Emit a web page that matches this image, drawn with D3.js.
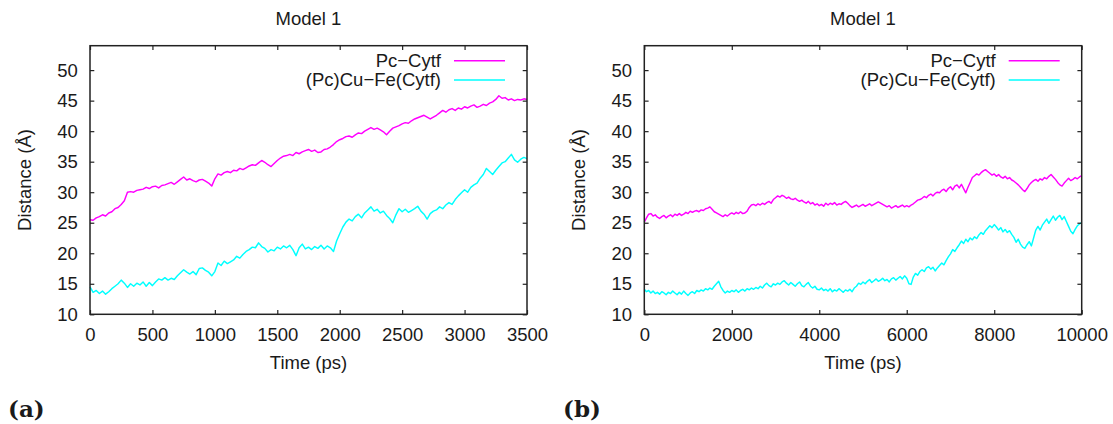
<!DOCTYPE html>
<html>
<head>
<meta charset="utf-8">
<script src="https://cdn.jsdelivr.net/npm/d3@7"></script>
<style>
  body { margin: 0; background: #fff; }
  svg { display: block; }
  text { font-family: "Liberation Sans", Arial, Helvetica, sans-serif; fill: #1a1a1a; }
</style>
</head>
<body>
<svg id="chart" width="1113" height="424"></svg>
<script>
// Distance traces from the two Model 1 MD runs.
const panelTitle = "Model 1";
const xLabel = "Time (ps)";
const yLabel = "Distance (Å)";
const seriesNames = ["Pc\u2212Cytf", "(Pc)Cu\u2212Fe(Cytf)"];
const seriesColors = ["#ff00ff", "#00ffff"];
const panelTags = ["(a)", "(b)"];

const yTicks = [10, 15, 20, 25, 30, 35, 40, 45, 50];
const yDomain = [10, 54];
const xTicksA = [0, 500, 1000, 1500, 2000, 2500, 3000, 3500];
const xTicksB = [0, 2000, 4000, 6000, 8000, 10000];

// Sampling interval (ps) of each run
const stepA = 25;
const stepB = 50;

// Run (a): 0–3500 ps
const pcCytfA = [
  25.5,25.4,25.8,26.0,26.3,26.1,26.6,26.8,27.3,27.5,28.0,28.6,30.0,30.1,30.0,30.3,30.4,30.5,30.8,30.6,
  30.9,31.0,30.7,31.1,31.2,31.4,31.6,31.3,31.7,32.1,32.5,32.0,32.2,31.9,31.7,32.0,32.1,31.8,31.5,31.0,
  32.2,33.0,32.8,33.2,33.4,33.2,33.6,33.5,33.9,33.7,34.0,34.3,34.5,34.4,34.8,35.2,34.9,34.5,34.2,34.7,
  35.2,35.6,35.9,36.0,36.2,36.0,36.5,36.3,36.6,36.8,37.0,36.7,36.9,36.5,36.6,37.0,37.1,37.4,37.8,38.3,
  38.6,38.8,39.1,39.2,39.0,39.4,39.7,39.6,40.0,40.3,40.6,40.3,40.5,40.2,39.9,39.4,40.0,40.5,40.7,40.9,
  41.2,41.4,41.3,41.7,42.0,42.2,42.4,42.6,42.3,42.0,42.3,42.6,43.0,43.4,43.1,43.5,43.7,43.4,43.8,43.6,
  44.0,43.8,44.1,44.3,43.9,44.1,44.4,44.2,44.6,44.8,45.2,45.8,45.4,45.5,45.1,45.3,45.0,45.2,45.1,45.3,
  45.2
];
const cuFeA = [
  14.5,13.6,13.9,13.4,13.8,13.3,13.7,14.2,14.6,15.0,15.6,15.1,14.4,15.0,14.6,15.1,14.8,15.3,14.6,15.2,
  14.7,15.3,15.8,15.6,16.0,15.6,15.9,15.7,16.3,16.8,17.3,16.9,16.6,17.0,16.5,17.5,17.6,17.2,16.9,16.3,
  17.0,18.4,18.0,18.7,18.3,18.6,18.9,19.5,19.2,19.8,20.3,20.6,21.0,20.9,21.7,21.1,20.8,20.2,20.6,20.4,
  21.0,20.7,21.2,20.9,21.3,20.6,19.6,20.9,21.5,20.7,21.0,20.6,21.1,20.8,21.3,20.7,21.2,20.9,20.3,22.0,
  23.2,24.3,25.1,25.6,25.3,26.0,26.4,25.8,26.6,27.1,27.6,26.9,27.2,26.6,26.9,26.2,25.7,25.0,26.3,27.3,
  26.8,27.2,26.7,27.0,27.3,27.7,26.9,26.4,25.6,26.5,26.9,27.1,27.6,27.3,27.9,28.3,28.0,28.8,29.4,29.9,
  30.4,30.0,30.8,31.2,31.5,32.3,32.9,33.9,33.4,32.9,33.6,34.2,34.8,35.0,35.6,36.2,35.3,34.9,35.4,35.7,
  35.5
];

// Run (b): 0–10000 ps
const pcCytfB = [
  25.1,25.8,26.4,26.5,26.1,26.3,25.9,25.7,26.0,26.2,25.8,26.1,26.3,26.0,26.4,26.2,26.5,26.2,26.4,26.7,
  26.5,26.9,26.7,26.9,27.0,26.8,27.1,27.0,27.3,27.4,27.6,27.2,26.8,26.6,26.4,26.2,26.0,26.3,26.1,26.4,
  26.6,26.4,26.7,26.5,26.8,26.5,26.6,26.9,27.5,27.9,28.0,27.8,28.1,27.9,28.2,28.0,28.3,28.5,28.2,28.8,
  29.1,29.4,29.2,29.5,29.3,29.0,29.2,28.9,28.8,29.0,28.7,28.5,28.7,28.4,28.2,28.5,28.1,28.3,27.9,28.1,
  27.8,28.0,27.7,28.2,27.9,28.2,28.0,28.3,27.9,28.1,28.0,28.3,28.5,28.2,27.8,27.5,27.7,27.9,27.6,27.8,
  28.0,27.7,27.9,28.1,27.8,28.0,28.2,28.4,28.2,28.0,27.8,27.6,27.8,27.4,27.6,27.8,27.5,27.7,27.9,27.6,
  27.8,27.6,27.9,28.1,28.4,28.7,28.8,29.0,29.3,29.1,29.5,29.7,29.4,29.8,30.0,29.9,30.3,30.5,30.1,30.6,
  30.9,30.4,31.0,31.2,30.7,31.3,30.6,29.9,30.8,31.6,32.4,32.7,33.0,32.8,33.2,33.5,33.7,33.4,33.1,32.8,
  33.0,32.6,32.9,32.5,32.3,32.6,32.2,32.4,32.0,31.8,31.5,31.2,30.8,30.4,30.1,30.6,31.2,31.6,31.9,32.1,
  31.8,32.2,32.0,32.4,32.2,32.6,32.9,32.5,32.1,31.6,31.2,31.0,31.5,31.9,32.3,31.9,32.1,32.4,32.2,32.5,
  32.7
];
const cuFeB = [
  14.1,13.7,13.9,13.5,13.8,13.4,13.6,13.3,13.7,13.5,13.2,13.6,13.4,13.8,13.5,13.2,13.6,13.3,13.8,13.4,
  13.1,13.5,13.7,13.4,13.9,13.7,14.0,13.8,14.2,14.0,14.3,14.1,14.6,15.0,15.4,14.5,13.9,13.5,13.8,13.6,
  13.9,13.7,14.0,13.6,13.9,14.1,13.8,14.2,14.0,14.3,14.1,14.4,14.2,14.6,14.3,14.8,15.1,14.7,14.5,15.0,
  14.8,15.1,14.9,15.3,15.5,15.1,14.8,15.2,14.9,14.6,15.0,15.3,14.7,14.5,14.9,15.2,14.6,14.3,14.6,14.1,
  14.0,14.3,13.9,14.1,13.8,14.2,13.7,14.0,13.8,14.2,13.9,13.6,14.0,13.8,14.1,13.7,14.3,14.6,15.1,14.9,
  15.3,15.0,15.4,15.7,15.2,15.5,15.8,15.4,15.6,15.9,15.5,15.7,15.3,15.8,16.0,15.6,15.9,16.2,15.8,16.3,
  15.9,15.0,14.9,16.1,16.7,16.4,17.0,17.3,17.0,17.6,17.8,17.4,17.7,17.1,17.6,18.0,18.4,18.1,18.8,19.4,
  19.9,20.6,20.3,20.9,21.4,22.0,21.6,22.3,21.9,22.5,22.2,22.7,22.4,23.0,23.4,23.1,23.7,24.1,24.5,24.2,
  24.7,24.3,23.8,24.2,23.5,23.9,23.4,23.7,23.1,22.6,21.8,22.3,21.5,21.0,20.8,21.4,21.9,21.2,22.5,23.8,
  24.4,23.8,24.6,25.1,25.6,24.9,25.5,26.1,25.4,25.9,26.2,25.5,26.0,25.2,24.4,23.6,23.2,23.9,24.5,24.8,
  25.0
];

const panels = [
  { left: 90,    right: 527,    xMax: 3500,  xTicks: xTicksA, step: stepA, series: [pcCytfA, cuFeA], tag: panelTags[0], tagX: 8 },
  { left: 644.3, right: 1081.7, xMax: 10000, xTicks: xTicksB, step: stepB, series: [pcCytfB, cuFeB], tag: panelTags[1], tagX: 563 }
];
const plotTop = 45.7, plotBottom = 314.3;
const tickLen = 4.3;
const fontSize = 18.5;

const svg = d3.select("#chart");

panels.forEach(p => {
  const x = d3.scaleLinear().domain([0, p.xMax]).range([p.left, p.right]);
  const y = d3.scaleLinear().domain(yDomain).range([plotBottom, plotTop]);
  const g = svg.append("g");
  const cx = (p.left + p.right) / 2;

  // traces
  const line = d3.line()
    .x((d, i) => x(i * p.step))
    .y(d => y(d));
  p.series.forEach((vals, k) => {
    g.append("path")
      .datum(vals)
      .attr("fill", "none")
      .attr("stroke", seriesColors[k])
      .attr("stroke-width", 1.45)
      .attr("stroke-linejoin", "round")
      .attr("d", line);
  });

  // axes with inward ticks on all four sides
  const styleAxis = sel => {
    sel.select(".domain").remove();
    sel.selectAll(".tick line").attr("stroke", "#222").attr("stroke-width", 1.2);
    sel.selectAll(".tick text").style("font-size", fontSize + "px").attr("fill", "#1a1a1a");
  };
  g.append("g").attr("transform", `translate(0,${plotBottom})`)
    .call(d3.axisBottom(x).tickValues(p.xTicks).tickFormat(d3.format("d")).tickSize(-tickLen).tickPadding(14))
    .call(styleAxis);
  g.append("g").attr("transform", `translate(0,${plotTop})`)
    .call(d3.axisTop(x).tickValues(p.xTicks).tickFormat("").tickSize(-tickLen))
    .call(styleAxis);
  g.append("g").attr("transform", `translate(${p.left},0)`)
    .call(d3.axisLeft(y).tickValues(yTicks).tickFormat(d3.format("d")).tickSize(-tickLen).tickPadding(12.3))
    .call(styleAxis);
  g.append("g").attr("transform", `translate(${p.right},0)`)
    .call(d3.axisRight(y).tickValues(yTicks).tickFormat("").tickSize(-tickLen))
    .call(styleAxis);

  // frame
  g.append("rect")
    .attr("x", p.left).attr("y", plotTop)
    .attr("width", p.right - p.left).attr("height", plotBottom - plotTop)
    .attr("fill", "none").attr("stroke", "#222").attr("stroke-width", 1.5);

  // legend
  const legendRows = [60.7, 80];
  seriesNames.forEach((name, k) => {
    g.append("line")
      .attr("x1", p.right - 73).attr("x2", p.right - 22)
      .attr("y1", legendRows[k]).attr("y2", legendRows[k])
      .attr("stroke", seriesColors[k]).attr("stroke-width", 1.6);
    g.append("text")
      .attr("x", p.right - 86).attr("y", legendRows[k]).attr("dy", "0.35em")
      .attr("text-anchor", "end").style("font-size", fontSize + "px")
      .text(name);
  });

  // titles and labels
  g.append("text").attr("x", cx).attr("y", 25).attr("text-anchor", "middle")
    .style("font-size", fontSize + "px").text(panelTitle);
  g.append("text").attr("x", cx).attr("y", 369).attr("text-anchor", "middle")
    .style("font-size", fontSize + "px").text(xLabel);
  g.append("text")
    .attr("transform", `translate(${p.left - 59},${(plotTop + plotBottom) / 2}) rotate(-90)`)
    .attr("text-anchor", "middle").style("font-size", fontSize + "px").text(yLabel);

  g.append("text").attr("x", p.tagX).attr("y", 417)
    .style("font-family", "'DejaVu Serif', serif").style("font-weight", "bold")
    .style("font-size", "23px").attr("fill", "#111").text(p.tag);
});
</script>
</body>
</html>
